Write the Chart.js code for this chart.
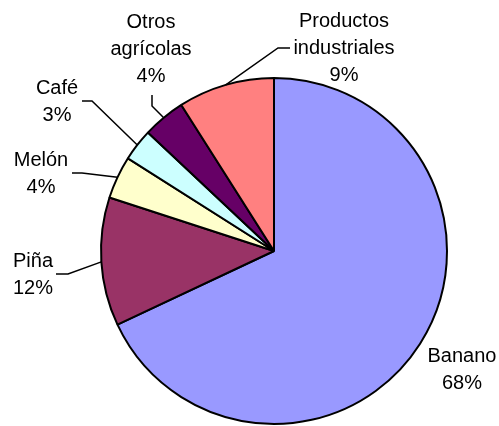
<!DOCTYPE html>
<html>
<head>
<meta charset="utf-8">
<script src="https://cdn.jsdelivr.net/npm/chart.js@4"></script>
<style>
  body { margin: 0; background: #fff; }
</style>
</head>
<body>
<canvas id="pie" width="499" height="426"></canvas>
<script>
// data
const categories = ['Banano', 'Piña', 'Melón', 'Café', 'Otros agrícolas', 'Productos industriales']
const shares = [68, 12, 4, 3, 4, 9]
const sliceColors = ['#9999FF', '#993366', '#FFFFCC', '#CCFFFF', '#660066', '#FF8080']

// label text lines per slice (the percent line is added from shares)
const labelLines = [['Banano'], ['Piña'], ['Melón'], ['Café'], ['Otros', 'agrícolas'], ['Productos', 'industriales']]

// label layout, offsets from pie centre: text centre of the first line, and leader points after the arc point
const labelLayout = [
    { dx: 188, dy: 105, leader: null },
    { dx: -241, dy: 10, leader: [[-206, 23], [-218, 23]] },
    { dx: -233, dy: -91, leader: [[-192, -78], [-202, -78]] },
    { dx: -217, dy: -163, leader: [[-182, -150], [-192, -150]] },
    { dx: -123, dy: -229, leader: [[-122, -145], [-122, -156]] },
    { dx: 70, dy: -230, leader: [[4, -203], [16, -203]] },
]

const lineGap = 27

const pieLabels = {
    id: 'pieLabels',
    afterDraw(chart) {
        const ctx = chart.ctx
        const arcs = chart.getDatasetMeta(0).data
        ctx.save()
        arcs.forEach((arc, i) => {
            const lay = labelLayout[i]
            const cx = arc.x, cy = arc.y
            const mid = (arc.startAngle + arc.endAngle) / 2
            const r = arc.outerRadius
            if (lay.leader) {
                ctx.beginPath()
                ctx.strokeStyle = '#000'
                ctx.lineWidth = 1.5
                ctx.moveTo(cx + r * Math.cos(mid), cy + r * Math.sin(mid))
                lay.leader.forEach(p => ctx.lineTo(cx + p[0], cy + p[1]))
                ctx.stroke()
            }
            const lines = [...labelLines[i], shares[i] + '%']
            ctx.fillStyle = '#000'
            ctx.font = '20px "Liberation Sans", Arial, sans-serif'
            ctx.textAlign = 'center'
            ctx.textBaseline = 'middle'
            lines.forEach((t, k) => {
                ctx.fillText(t, cx + lay.dx, cy + lay.dy + k * lineGap)
            })
        })
        ctx.restore()
    }
}

new Chart(document.getElementById('pie'), {
    type: 'pie',
    data: {
        labels: categories,
        datasets: [{
            data: shares,
            backgroundColor: sliceColors,
            borderColor: '#000',
            borderWidth: 2,
        }]
    },
    options: {
        responsive: false,
        animation: false,
        layout: { padding: { left: 100, right: 51, top: 77, bottom: 1 } },
        plugins: {
            legend: { display: false },
            tooltip: { enabled: false },
        }
    },
    plugins: [pieLabels]
})
</script>
</body>
</html>
